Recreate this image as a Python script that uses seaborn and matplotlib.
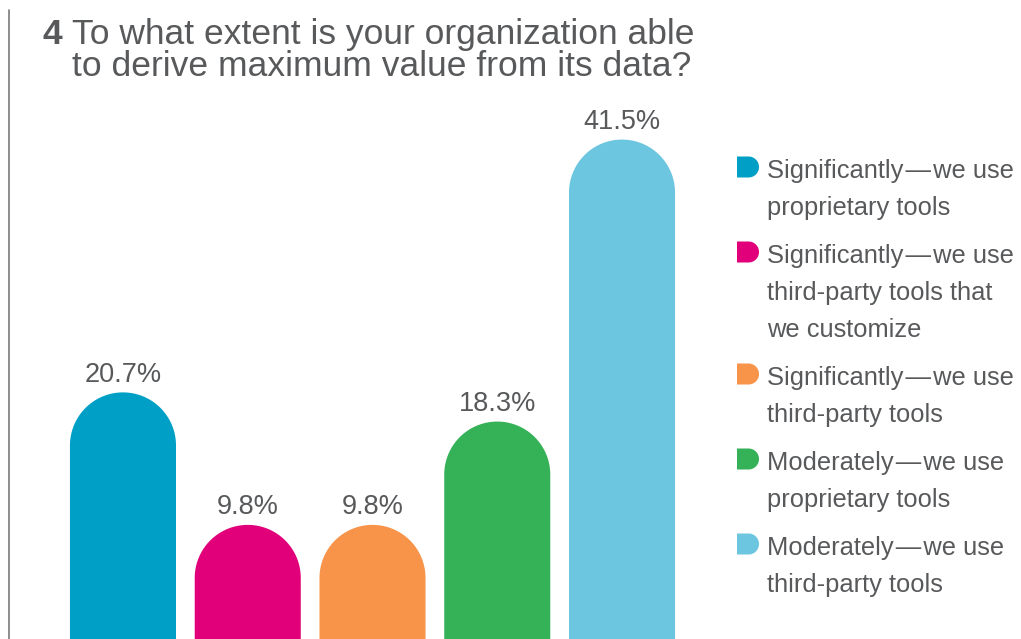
import numpy as np
import pandas as pd
import matplotlib
matplotlib.use("Agg")
import matplotlib.pyplot as plt
from matplotlib.path import Path
from matplotlib.patches import PathPatch
import seaborn as sns

# Survey answers and their shares (%)
answers = [
    "Significantly\u200a\u2014\u200awe use\nproprietary tools",
    "Significantly\u200a\u2014\u200awe use\nthird-party tools that\nwe customize",
    "Significantly\u200a\u2014\u200awe use\nthird-party tools",
    "Moderately\u200a\u2014\u200awe use\nproprietary tools",
    "Moderately\u200a\u2014\u200awe use\nthird-party tools",
]
shares = [20.7, 9.8, 9.8, 18.3, 41.5]
colors = ["#00A0C6", "#E2007A", "#F7944A", "#35B157", "#6CC6DF"]
title_number = "4"
title_lines = ["To what extent is your organization able",
               "to derive maximum value from its data?"]

sns.set_theme(style="white")
plt.rcParams["font.family"] = ["Liberation Sans", "DejaVu Sans"]
TEXT = "#58595B"

W, H = 1021, 639
fig = plt.figure(figsize=(W / 100, H / 100), dpi=100)

# bar axes placed in pixel terms
ax_l, ax_r = 60.6, 684.4
ax_base, ax_top = 644.0, 97.0
ax = fig.add_axes([ax_l / W, (H - ax_base) / H, (ax_r - ax_l) / W, (ax_base - ax_top) / H])

df = pd.DataFrame({"answer": answers, "share": shares})
sns.barplot(data=df, x="answer", y="share", hue="answer", palette=colors,
            width=0.85, legend=False, ax=ax, saturation=1)
ax.set_xlim(-0.5, 4.5)
ax.set_ylim(0, 45)
ax.axis("off")

# rounded tops: semicircle in screen space
ppx = (ax_r - ax_l) / 5.0
ppy = (ax_base - ax_top) / 45.0
for cont in ax.containers:
    ax.bar_label(cont, labels=[f"{v}%" for v in cont.datavalues], padding=3.5,
                 fontsize=19.5, color=TEXT)
    for p in cont.patches:
        x0, w, h = p.get_x(), p.get_width(), p.get_height()
        rx = w / 2
        ry = rx * ppx / ppy
        cx = x0 + rx
        th = np.linspace(np.pi, 0, 60)
        arc = np.column_stack([cx + rx * np.cos(th), (h - ry) + ry * np.sin(th)])
        verts = np.vstack([[x0, 0], [x0, h - ry], arc, [x0 + w, h - ry], [x0 + w, 0], [x0, 0]])
        codes = [Path.MOVETO] + [Path.LINETO] * (len(verts) - 2) + [Path.CLOSEPOLY]
        ax.add_patch(PathPatch(Path(verts, codes), facecolor=p.get_facecolor(),
                               edgecolor="none", clip_on=False))
        p.set_visible(False)

# overlay in pixel coordinates for title, rule and legend
ov = fig.add_axes([0, 0, 1, 1], facecolor="none")
ov.set_xlim(0, W)
ov.set_ylim(H, 0)
ov.axis("off")

ov.plot([9, 9], [10, H], color="#7a7a7a", lw=1.2)

ov.text(42, 44, title_number, fontsize=25.5, fontweight="bold", color=TEXT, va="baseline")
for i, line in enumerate(title_lines):
    ov.text(72, 44 + i * 31.5, line, fontsize=25.5, color=TEXT, va="baseline")

# legend
y = 178
for label, c in zip(answers, colors):
    mx, mw, mh = 737, 22, 21
    top = y - mh - 0.5
    r = mh / 2
    th = np.linspace(np.pi / 2, -np.pi / 2, 40)
    arc = np.column_stack([mx + mw - r + r * np.cos(th), top + r - r * np.sin(th)])
    verts = np.vstack([[mx, top], arc, [mx, top + mh], [mx, top]])
    codes = [Path.MOVETO] + [Path.LINETO] * (len(verts) - 2) + [Path.CLOSEPOLY]
    ov.add_patch(PathPatch(Path(verts, codes), facecolor=c, edgecolor="none"))
    lines = label.split("\n")
    for j, ln in enumerate(lines):
        ov.text(767, y + j * 37, ln, fontsize=18.4, color=TEXT, va="baseline")
    y += len(lines) * 37 + 11

fig.savefig("out.png", dpi=100)
